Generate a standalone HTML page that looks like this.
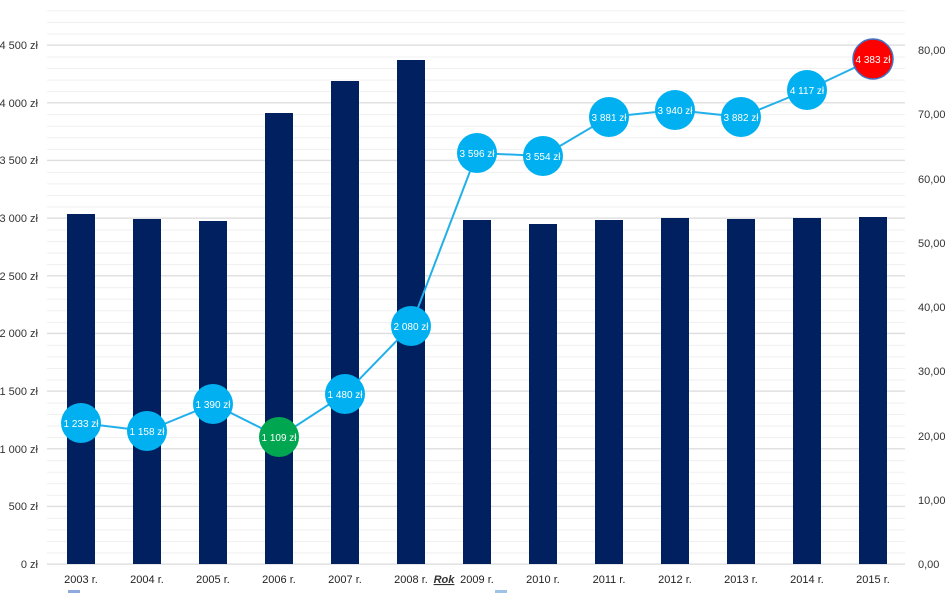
<!DOCTYPE html><html><head><style>body{margin:0;background:#fff}svg{display:block;font-family:"Liberation Sans Narrow","Liberation Sans",sans-serif}</style></head><body>
<svg width="948" height="593" viewBox="0 0 948 593">
<defs><pattern id="p" x="0" y="564" width="948" height="11.533" patternUnits="userSpaceOnUse"><line x1="0" x2="948" y1="0.5" y2="0.5" stroke="#efefef"/></pattern></defs>
<rect x="47" y="5" width="858" height="560" fill="url(#p)"/>
<g stroke="#d9d9d9">
<line x1="47" x2="905" y1="564" y2="564"/><line x1="47" x2="905" y1="506.3" y2="506.3"/><line x1="47" x2="905" y1="448.7" y2="448.7"/><line x1="47" x2="905" y1="391" y2="391"/><line x1="47" x2="905" y1="333.3" y2="333.3"/><line x1="47" x2="905" y1="275.7" y2="275.7"/><line x1="47" x2="905" y1="218" y2="218"/><line x1="47" x2="905" y1="160.3" y2="160.3"/><line x1="47" x2="905" y1="102.7" y2="102.7"/><line x1="47" x2="905" y1="45" y2="45"/>
</g>
<g font-size="11" text-anchor="end" fill="#333">
<text x="38" y="568">0 zł</text><text x="38" y="510">500 zł</text><text x="38" y="453">1 000 zł</text><text x="38" y="395">1 500 zł</text><text x="38" y="337">2 000 zł</text><text x="38" y="280">2 500 zł</text><text x="38" y="222">3 000 zł</text><text x="38" y="164">3 500 zł</text><text x="38" y="107">4 000 zł</text><text x="38" y="49">4 500 zł</text>
</g>
<g font-size="11" fill="#333">
<text x="918" y="568">0,00</text><text x="918" y="504">10,00</text><text x="918" y="440">20,00</text><text x="918" y="375">30,00</text><text x="918" y="311">40,00</text><text x="918" y="247">50,00</text><text x="918" y="183">60,00</text><text x="918" y="118">70,00</text><text x="918" y="54">80,00</text>
</g>
<g fill="#002060">
<rect x="67" y="214" width="28" height="350"/><rect x="133" y="219" width="28" height="345"/><rect x="199" y="221" width="28" height="343"/><rect x="265" y="113" width="28" height="451"/><rect x="331" y="81" width="28" height="483"/><rect x="397" y="60" width="28" height="504"/><rect x="463" y="220" width="28" height="344"/><rect x="529" y="224" width="28" height="340"/><rect x="595" y="220" width="28" height="344"/><rect x="661" y="218" width="28" height="346"/><rect x="727" y="219" width="28" height="345"/><rect x="793" y="218" width="28" height="346"/><rect x="859" y="217" width="28" height="347"/>
</g>
<g font-size="11" text-anchor="middle" fill="#222">
<text x="81" y="583">2003 r.</text><text x="147" y="583">2004 r.</text><text x="213" y="583">2005 r.</text><text x="279" y="583">2006 r.</text><text x="345" y="583">2007 r.</text><text x="411" y="583">2008 r.</text><text x="477" y="583">2009 r.</text><text x="543" y="583">2010 r.</text><text x="609" y="583">2011 r.</text><text x="675" y="583">2012 r.</text><text x="741" y="583">2013 r.</text><text x="807" y="583">2014 r.</text><text x="873" y="583">2015 r.</text>
</g>
<text x="444" y="583" font-size="11" font-weight="bold" font-style="italic" text-anchor="middle" fill="#333" text-decoration="underline">Rok</text>
<polyline points="81,423 147,431 213,404 279,437 345,394 411,326 477,153 543,156 609,117 675,110 741,117 807,90 873,59" fill="none" stroke="#22b0ea" stroke-width="2"/>
<g fill="#00b0f0">
<circle cx="81" cy="423" r="20"/><circle cx="147" cy="431" r="20"/><circle cx="213" cy="404" r="20"/><circle cx="279" cy="437" r="20" fill="#00a650"/><circle cx="345" cy="394" r="20"/><circle cx="411" cy="326" r="20"/><circle cx="477" cy="153" r="20"/><circle cx="543" cy="156" r="20"/><circle cx="609" cy="117" r="20"/><circle cx="675" cy="110" r="20"/><circle cx="741" cy="117" r="20"/><circle cx="807" cy="90" r="20"/><circle cx="873" cy="59" r="20" fill="#ff0000" stroke="#4472c4" stroke-width="1.5"/>
</g>
<g font-size="10" text-anchor="middle" fill="#fff">
<text x="81" y="427">1 233 zł</text><text x="147" y="435">1 158 zł</text><text x="213" y="408">1 390 zł</text><text x="279" y="441">1 109 zł</text><text x="345" y="398">1 480 zł</text><text x="411" y="330">2 080 zł</text><text x="477" y="157">3 596 zł</text><text x="543" y="160">3 554 zł</text><text x="609" y="121">3 881 zł</text><text x="675" y="114">3 940 zł</text><text x="741" y="121">3 882 zł</text><text x="807" y="94">4 117 zł</text><text x="873" y="63">4 383 zł</text>
</g>
<rect x="68" y="590" width="12" height="4" fill="#8ea9db"/><rect x="495" y="590" width="12" height="4" fill="#9dc3e6"/>
</svg></body></html>
